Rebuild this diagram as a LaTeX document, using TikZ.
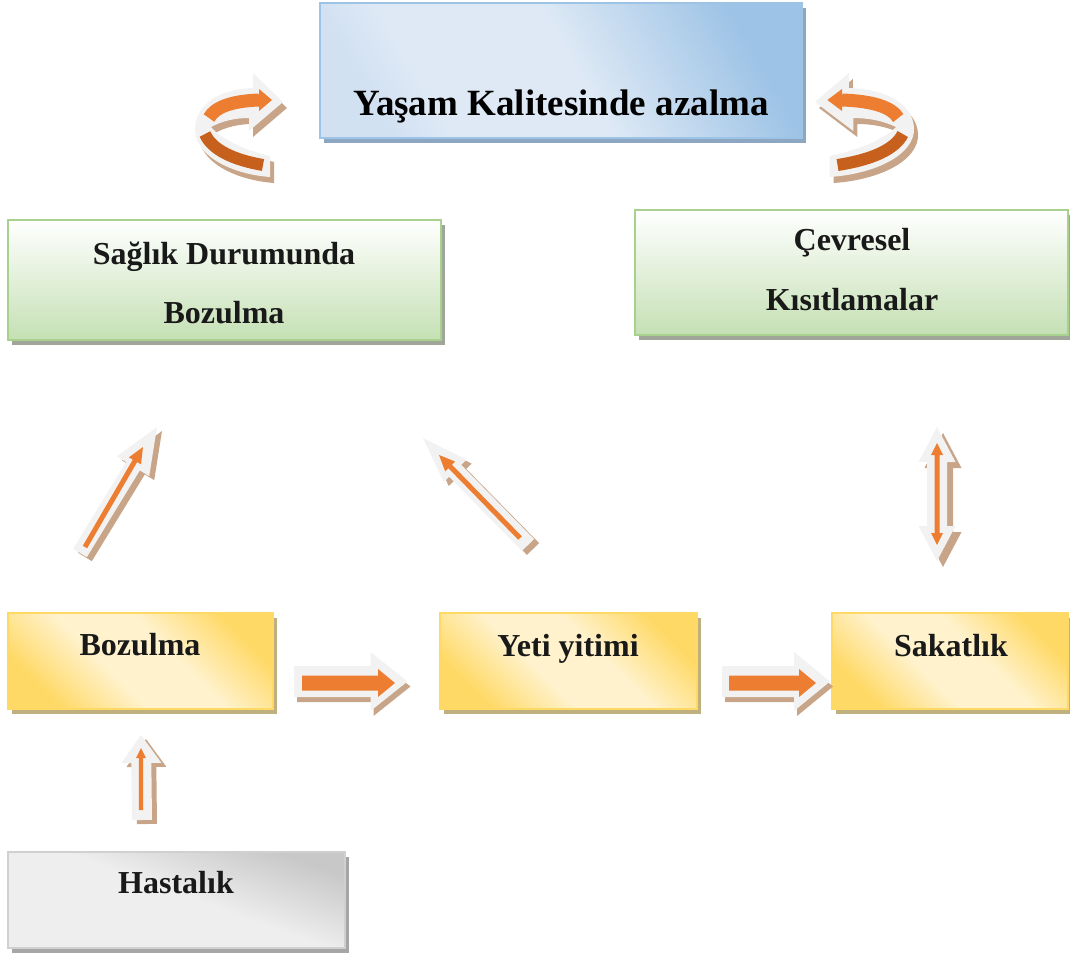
\documentclass[tikz,border=0pt]{standalone}
\usepackage{fontspec}
\setmainfont{Liberation Serif}
\usetikzlibrary{calc,shadows}
\definecolor{awhite}{HTML}{F2F2F2}
\definecolor{atan}{HTML}{C8A588}
\definecolor{aorange}{HTML}{ED7D31}
\definecolor{adark}{HTML}{C7601C}
\definecolor{blueA}{HTML}{D2E1F2}
\definecolor{blueB}{HTML}{DEE9F5}
\definecolor{blueC}{HTML}{9DC3E6}
\definecolor{blueline}{HTML}{9DC3E6}
\definecolor{blueshadow}{HTML}{8DA7C2}
\definecolor{greenB}{HTML}{C5E0B4}
\definecolor{greenM}{HTML}{E6F1DE}
\definecolor{greenline}{HTML}{A9D18E}
\definecolor{greenshadow}{HTML}{A0A69A}
\definecolor{yelD}{HTML}{FFD966}
\definecolor{yelL}{HTML}{FFF2CC}
\definecolor{yelshadow}{HTML}{BFB07F}
\definecolor{grayD}{HTML}{C8C8C8}
\definecolor{grayL}{HTML}{EEEEEE}
\definecolor{grayline}{HTML}{D0D0D0}
\definecolor{grayshadow}{HTML}{A6A6A6}
\pgfdeclarehorizontalshading{blueshade}{100bp}{color(0bp)=(blueA); color(25bp)=(blueA); color(32bp)=(blueB); color(52bp)=(blueB); color(75bp)=(blueC); color(100bp)=(blueC)}
\pgfdeclareverticalshading{yelshade}{100bp}{color(0bp)=(yelD); color(25bp)=(yelD); color(42bp)=(yelL); color(58bp)=(yelL); color(75bp)=(yelD); color(100bp)=(yelD)}
\pgfdeclareverticalshading{grayshade}{100bp}{color(0bp)=(grayL); color(25bp)=(grayL); color(52bp)=(grayL); color(75bp)=(grayD); color(100bp)=(grayD)}
% block arrow: tail, tip, shaft half, head half, head length, style
\newcommand\barrow[6]{%
  \path ($(#2)!#5!(#1)$) coordinate (#2-hb);
  \fill[#6] ($(#1)!#3!90:(#2)$) -- ($(#2-hb)!#3!-90:(#1)$) -- ($(#2-hb)!#4!-90:(#1)$) -- (#2)
    -- ($(#2-hb)!#4!90:(#1)$) -- ($(#2-hb)!#3!90:(#1)$) -- ($(#1)!#3!-90:(#2)$) -- cycle;}
% double block arrow
\newcommand\dbarrow[6]{%
  \path ($(#2)!#5!(#1)$) coordinate (#2-hb) ($(#1)!#5!(#2)$) coordinate (#1-hb);
  \fill[#6] (#1) -- ($(#1-hb)!#4!90:(#2)$) -- ($(#1-hb)!#3!90:(#2)$) -- ($(#2-hb)!#3!-90:(#1)$)
    -- ($(#2-hb)!#4!-90:(#1)$) -- (#2) -- ($(#2-hb)!#4!90:(#1)$) -- ($(#2-hb)!#3!90:(#1)$)
    -- ($(#1-hb)!#3!-90:(#2)$) -- ($(#1-hb)!#4!-90:(#2)$) -- cycle;}
% curved ribbon arrow body
\newcommand\curvebody[1]{%
  \fill[#1] (270,156) .. controls (245,150) and (222,140) .. (211,127)
    .. controls (222,121) and (235,118) .. (249,118)
    -- (249,131) -- (283,102) -- (253,73) -- (253,88)
    .. controls (220,89) and (196,104) .. (195,128)
    .. controls (194,155) and (230,174) .. (270,177) -- cycle;}
\newcommand\curveinner{%
  \draw[line width=12pt, adark] (205,134) .. controls (212,150) and (234,160) .. (263,165);
  \draw[line width=13pt, aorange] (209,118) .. controls (215,107) and (232,101) .. (259,100);
  \fill[aorange] (259,89) -- (272,100) -- (259,111) -- cycle;}
\tikzset{
  box/.style={draw, line width=2pt, rectangle, inner sep=0pt, outer sep=0pt},
  bluebox/.style={box, draw=blueline, shade, shading=blueshade, shading angle=30,
    drop shadow={fill=blueshadow, opacity=1, shadow xshift=4pt, shadow yshift=-5pt}},
  greenbox/.style={box, draw=greenline, top color=white, middle color=greenM, bottom color=greenB,
    drop shadow={fill=greenshadow, opacity=1, shadow xshift=4pt, shadow yshift=-5pt}},
  yellowbox/.style={box, draw=yelD, shade, shading=yelshade, shading angle=-45,
    drop shadow={fill=yelshadow, opacity=1, shadow xshift=4pt, shadow yshift=-5pt}},
  graybox/.style={box, draw=grayline, shade, shading=grayshade, shading angle=-20,
    drop shadow={fill=grayshadow, opacity=1, shadow xshift=4pt, shadow yshift=-5pt}},
  txt/.style={font=\bfseries\fontsize{32}{38}\selectfont, text=black!90, inner sep=0pt, anchor=base},
  txtbig/.style={font=\bfseries\fontsize{37}{44}\selectfont, text=black, inner sep=0pt, anchor=base},
  whitearr/.style={fill=awhite},
  tanarr/.style={fill=atan},
  orangearr/.style={fill=aorange}
}
\begin{document}
\begin{tikzpicture}[x=1pt,y=-1pt]
\useasboundingbox (0,0) rectangle (1070,958);
% boxes
\node[bluebox, minimum width=482pt, minimum height=135pt] (yasam) at (561,70.5) {};
\node[txtbig] (yasamT) at (561,115) {Yaşam Kalitesinde azalma};
\node[greenbox, minimum width=433pt, minimum height=120pt] (saglik) at (224.5,280) {};
\node[txt] (saglikT1) at (224,264) {Sağlık Durumunda};
\node[txt] (saglikT2) at (224,323) {Bozulma};
\node[greenbox, minimum width=433pt, minimum height=125pt] (cevre) at (851.5,272.5) {};
\node[txt] (cevreT1) at (852,250) {Çevresel};
\node[txt] (cevreT2) at (852,310) {Kısıtlamalar};
\node[yellowbox, minimum width=265pt, minimum height=96pt] (bozulma) at (140.5,661) {};
\node[txt] (bozulmaT) at (140,655) {Bozulma};
\node[yellowbox, minimum width=257pt, minimum height=96pt] (yeti) at (568.5,661) {};
\node[txt] (yetiT) at (568,656) {Yeti yitimi};
\node[yellowbox, minimum width=236pt, minimum height=96pt] (sakat) at (950,661) {};
\node[txt] (sakatT) at (951,656) {Sakatlık};
\node[graybox, minimum width=337pt, minimum height=96pt] (hasta) at (176.5,900) {};
\node[txt] (hastaT) at (176,893) {Hastalık};
% arrow end points
\coordinate (a1s) at (294,681.5); \coordinate (a1e) at (407.5,681.5);
\coordinate (o1s) at (302,683);   \coordinate (o1e) at (395,683);
\coordinate (a2s) at (722,681.5); \coordinate (a2e) at (830,681.5);
\coordinate (o2s) at (729,683);   \coordinate (o2e) at (816,683);
\coordinate (a3s) at (142,820);   \coordinate (a3e) at (141,735);
\coordinate (o3s) at (141,810);   \coordinate (o3e) at (141,748);
\coordinate (a4s) at (80,553);    \coordinate (a4e) at (157,427);
\coordinate (o4s) at (85,547);    \coordinate (o4e) at (143,447);
\coordinate (a5s) at (528,545);   \coordinate (a5e) at (423,438);
\coordinate (o5s) at (520,538);   \coordinate (o5e) at (439,455);
\coordinate (d1) at (937,427);    \coordinate (d2) at (937,561);
\coordinate (e1) at (937,443);    \coordinate (e2) at (937,545);
% shadows
\begin{scope}[transform canvas={shift={(3pt,-5pt)}}]
  \barrow{a1s}{a1e}{15.5pt}{29.5pt}{37pt}{tanarr}
  \barrow{a2s}{a2e}{15.5pt}{29.5pt}{36pt}{tanarr}
\end{scope}
\begin{scope}[transform canvas={shift={(5pt,-4pt)}}]
  \barrow{a3s}{a3e}{10pt}{20pt}{28pt}{tanarr}
  \barrow{a4s}{a4e}{8pt}{19pt}{46pt}{tanarr}
  \barrow{a5s}{a5e}{8.5pt}{16pt}{46pt}{tanarr}
\end{scope}
\begin{scope}[transform canvas={shift={(6pt,-6pt)}}]
  \dbarrow{d1}{d2}{10pt}{18.5pt}{35pt}{tanarr}
\end{scope}
% white block arrows
\barrow{a1s}{a1e}{15.5pt}{29.5pt}{37pt}{whitearr}
\barrow{a2s}{a2e}{15.5pt}{29.5pt}{36pt}{whitearr}
\barrow{a3s}{a3e}{10pt}{20pt}{28pt}{whitearr}
\barrow{a4s}{a4e}{8pt}{19pt}{46pt}{whitearr}
\barrow{a5s}{a5e}{8.5pt}{16pt}{46pt}{whitearr}
\dbarrow{d1}{d2}{10pt}{18.5pt}{35pt}{whitearr}
% orange inner arrows
\barrow{o1s}{o1e}{7.5pt}{14pt}{17pt}{orangearr}
\barrow{o2s}{o2e}{7.5pt}{14pt}{17pt}{orangearr}
\barrow{o3s}{o3e}{2.2pt}{5pt}{10pt}{orangearr}
\barrow{o4s}{o4e}{2.5pt}{7pt}{16pt}{orangearr}
\barrow{o5s}{o5e}{2.5pt}{7pt}{16pt}{orangearr}
\dbarrow{e1}{e2}{2.5pt}{6pt}{12pt}{orangearr}
% curved arrows (left)
\begin{scope}[shift={(4,6)}]
  \curvebody{atan}
\end{scope}
\curvebody{awhite}
\curveinner
% curved arrow (right, mirrored)
\begin{scope}[shift={(4,6)}]
  \begin{scope}[shift={(1133.4,0)}, xscale=-1.125]
    \curvebody{atan}
  \end{scope}
\end{scope}
\begin{scope}[shift={(1133.4,0)}, xscale=-1.125]
  \curvebody{awhite}
  \curveinner
\end{scope}
\end{tikzpicture}
\end{document}
